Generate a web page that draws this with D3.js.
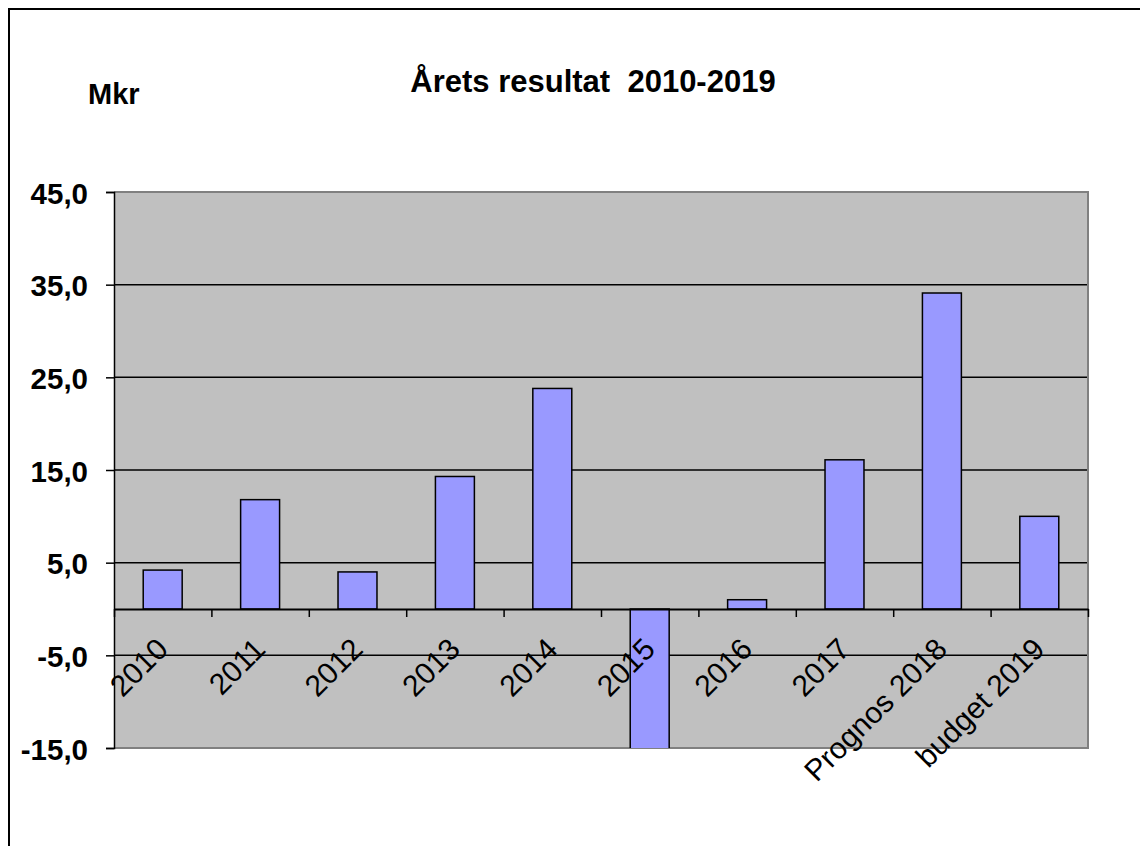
<!DOCTYPE html>
<html>
<head>
<meta charset="utf-8">
<script src="https://cdn.jsdelivr.net/npm/d3@7"></script>
<style>
  body { margin: 0; background: #fff; }
  svg { display: block; font-family: "Liberation Sans", Arial, sans-serif; }
</style>
</head>
<body>
<div id="chart"></div>
<script>
// data
const categories = ["2010", "2011", "2012", "2013", "2014", "2015", "2016", "2017", "Prognos 2018", "budget 2019"];
const resultValues = [4.2, 11.8, 4.0, 14.3, 23.8, -21.0, 1.0, 16.1, 34.1, 10.0];
const yTicks = [-15, -5, 5, 15, 25, 35, 45];
const titleText = "Årets resultat  2010-2019";
const unitText = "Mkr";

class ResultChart {
    constructor(parentElement) {
        this.parentElement = parentElement;
        this.width = 1140;
        this.height = 846;
        // plot area
        this.plot = {left: 114, right: 1088, top: 192, bottom: 748};
        this.initVis();
    }

    initVis() {
        let vis = this;
        let p = vis.plot;

        vis.svg = d3.select(vis.parentElement)
            .append("svg")
            .attr("width", vis.width)
            .attr("height", vis.height);

        // outer frame (runs off the right and bottom edge)
        vis.svg.append("rect")
            .attr("x", 9).attr("y", 9)
            .attr("width", vis.width + 20).attr("height", vis.height + 20)
            .attr("fill", "#fff")
            .attr("stroke", "#000")
            .attr("stroke-width", 2);

        vis.x = d3.scaleBand()
            .domain(categories)
            .range([p.left, p.right])
            .paddingInner(0.6)
            .paddingOuter(0.3);

        // category boundaries for the tick marks
        vis.xEdge = d3.scaleLinear()
            .domain([0, categories.length])
            .range([p.left, p.right]);

        vis.y = d3.scaleLinear()
            .domain([-15, 45])
            .range([p.bottom, p.top]);

        // plot background
        vis.svg.append("rect")
            .attr("x", p.left).attr("y", p.top)
            .attr("width", p.right - p.left).attr("height", p.bottom - p.top)
            .attr("fill", "#C0C0C0");

        // gridlines
        vis.svg.append("g")
            .selectAll("line")
            .data(yTicks.filter(d => d > -15 && d < 45))
            .join("line")
            .attr("x1", p.left).attr("x2", p.right)
            .attr("y1", d => vis.y(d)).attr("y2", d => vis.y(d))
            .attr("stroke", "#000")
            .attr("stroke-width", 1.5);

        // plot border top / right / bottom
        vis.svg.append("path")
            .attr("d", `M${p.left},${p.top}H${p.right}V${p.bottom}H${p.left}`)
            .attr("fill", "none")
            .attr("stroke", "#808080")
            .attr("stroke-width", 2);

        vis.svg.append("clipPath")
            .attr("id", "plot-clip")
            .append("rect")
            .attr("x", p.left).attr("y", p.top)
            .attr("width", p.right - p.left).attr("height", p.bottom - p.top);

        // bars
        vis.svg.append("g")
            .attr("clip-path", "url(#plot-clip)")
            .selectAll(".bar")
            .data(categories.map((c, i) => ({cat: c, value: resultValues[i]})))
            .join("rect")
            .attr("class", "bar")
            .attr("x", d => vis.x(d.cat))
            .attr("width", vis.x.bandwidth())
            .attr("y", d => vis.y(Math.max(0, d.value)))
            .attr("height", d => Math.abs(vis.y(d.value) - vis.y(0)))
            .attr("fill", "#9999FF")
            .attr("stroke", "#000")
            .attr("stroke-width", 1.5);

        // y axis
        let yAxis = d3.axisLeft(vis.y)
            .tickValues(yTicks)
            .tickFormat(d => d.toFixed(1).replace(".", ","))
            .tickSize(8)
            .tickPadding(18);

        let yg = vis.svg.append("g")
            .attr("transform", `translate(${p.left},0)`)
            .call(yAxis);
        yg.select(".domain").attr("stroke", "#000").attr("stroke-width", 1.5);
        yg.selectAll(".tick line").attr("stroke", "#000").attr("stroke-width", 1.5);
        yg.selectAll(".tick text")
            .attr("fill", "#000")
            .style("font-size", "29.5px")
            .style("font-weight", "bold")
            .attr("dy", "0.38em");

        // x axis on the zero line, ticks between categories
        let xAxis = d3.axisBottom(vis.xEdge)
            .tickValues(d3.range(categories.length + 1))
            .tickFormat("")
            .tickSize(8)
            .tickSizeOuter(0);

        let xg = vis.svg.append("g")
            .attr("transform", `translate(0,${vis.y(0)})`)
            .call(xAxis);
        xg.select(".domain").attr("stroke", "#000").attr("stroke-width", 2);
        xg.selectAll(".tick line").attr("stroke", "#000").attr("stroke-width", 1.5);

        // rotated category labels
        vis.svg.append("g")
            .selectAll("text")
            .data(categories)
            .join("text")
            .attr("transform", d => `translate(${vis.x(d) + vis.x.bandwidth() / 2 + 7},651) rotate(-45)`)
            .attr("text-anchor", "end")
            .style("font-size", "30px")
            .attr("fill", "#000")
            .text(d => d);

        // title and unit
        vis.svg.append("text")
            .attr("x", 593)
            .attr("y", 92)
            .attr("text-anchor", "middle")
            .style("font-size", "31px")
            .style("font-weight", "bold")
            .style("white-space", "pre")
            .attr("xml:space", "preserve")
            .text(titleText);

        vis.svg.append("text")
            .attr("x", 88)
            .attr("y", 104)
            .style("font-size", "29px")
            .style("font-weight", "bold")
            .text(unitText);
    }
}

let resultChart = new ResultChart("#chart");
</script>
</body>
</html>
